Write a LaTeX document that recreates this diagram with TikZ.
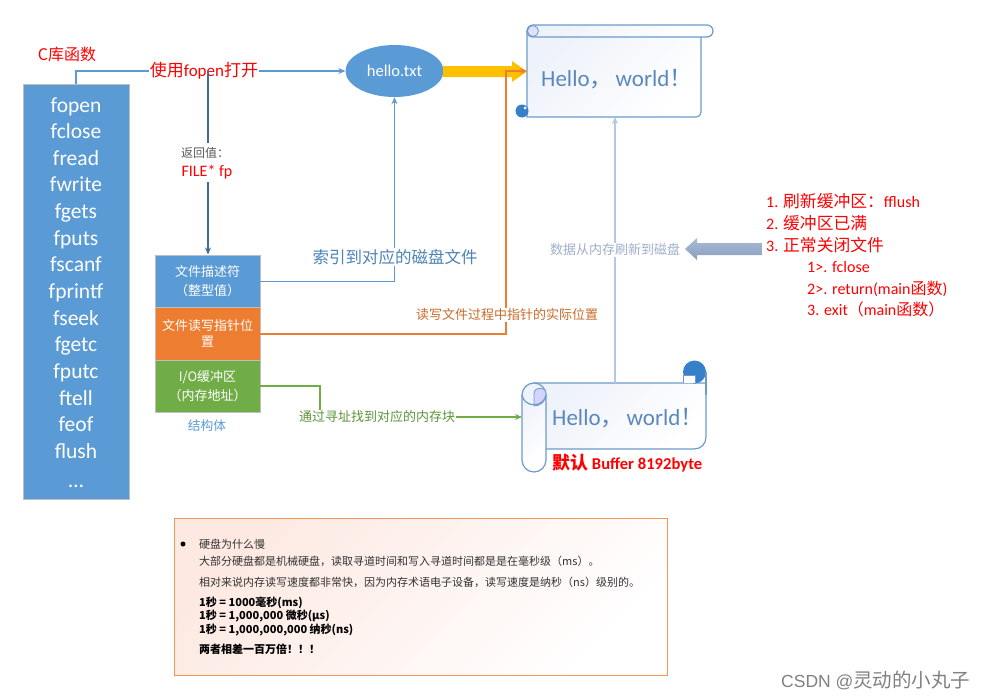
\documentclass[tikz,border=0pt]{standalone}
\usepackage{fontspec}
\usepackage{tikz}
\usetikzlibrary{shapes.geometric,arrows.meta}
\setmainfont{Carlito}
\newfontfamily\cjk{Noto Sans CJK SC}
\newfontfamily\wmark{Liberation Sans}
\newcommand{\zh}[1]{{\cjk #1}}
\newcommand{\redzh}[1]{{\cjk\fontsize{16.8}{16.8}\selectfont #1}}
\definecolor{boxblue}{HTML}{5B9BD5}
\definecolor{boxorange}{HTML}{ED7D31}
\definecolor{boxgreen}{HTML}{70AD47}
\definecolor{paperline}{HTML}{6C9BCB}
\definecolor{paperblue}{HTML}{3580C8}
\definecolor{papertext}{HTML}{5B88BC}
\definecolor{paleline}{HTML}{B4C7E7}
\definecolor{flowgold}{HTML}{FFC000}
\definecolor{papertint}{HTML}{EEF2FA}
\definecolor{notetint}{HTML}{FDE9E2}
\definecolor{arrowtop}{HTML}{A9BAD3}
\definecolor{arrowbot}{HTML}{8A9FBF}
\tikzset{
  pipe/.style={line width=1.6pt,-{Stealth[length=7pt,width=6pt]}},
  funcname/.style={anchor=base,inner sep=0pt,text=white,font=\fontsize{21.5}{21.5}\selectfont},
  fieldbox/.style={draw=gray!50,minimum width=105pt,minimum height=52.3pt,inner sep=0pt,
    align=center,text=white,font=\cjk\fontsize{13}{19}\selectfont},
  redtext/.style={text=red,anchor=base west,inner sep=0pt,font=\fontsize{16}{16}\selectfont},
  notetext/.style={anchor=base west,inner sep=0pt,text=black!80,font=\cjk\fontsize{11}{11}\selectfont},
  noteline/.style={notetext,text=black,font=\cjk\bfseries\fontsize{11}{11}\selectfont},
  paper/.style={draw=paperline,line width=1.2pt,left color=papertint,right color=white,shading angle=45},
  hellotext/.style={anchor=base west,inner sep=0pt,text=papertext,font=\fontsize{23}{23}\selectfont},
  linelabel/.style={fill=white,inner sep=1pt},
}
\begin{document}
\begin{tikzpicture}[x=1pt,y=-1pt]
  \useasboundingbox (0,0) rectangle (986,699);

  % Function list on the left
  \node[fill=boxblue,draw=gray!50,minimum width=106pt,minimum height=415pt,inner sep=0pt] (funcs) at (76,291.5) {};
  \node[text=red,font=\cjk\fontsize{16}{16}\selectfont] (clib) at (67,54) {C库函数};
  \foreach \name [count=\i from 0] in {fopen,fclose,fread,fwrite,fgets,fputs,fscanf,fprintf,fseek,fgetc,fputc,ftell,feof,flush} {
    \node[funcname] (func\i) at (76,112+26.65*\i) {\name};
  }
  \node[funcname] (func14) at (76,487) {\dots};

  % Disk file
  \node[ellipse,fill=boxblue,minimum width=98pt,minimum height=52pt,inner sep=0pt,text=white,font=\fontsize{16.5}{16.5}\selectfont] (hello) at (394.5,71) {hello.txt};

  % Upper paper
  \draw[paper] (527,31) -- (527,117) -- (696,117) .. controls (699,117) and (701,115) .. (701,112) -- (701,31) -- cycle;
  \draw[paper,rounded corners=6pt] (527,25) rectangle (713,37);
  \draw[draw=paperline,fill=blue!12,line width=0.8pt] (533,31) circle (5.5);
  \fill[paperblue] (522,111) circle (6.5);
  \fill[white] (525,108) circle (1.5);
  \node[hellotext] (diskhello) at (541,86) {Hello\zh{，}\hspace{3pt}world\zh{！}};
  \coordinate (diskin) at (527,71);
  \coordinate (diskbottom) at (615,117);
  \coordinate (orangebend) at (506,71);

  % Lower paper
  \draw[paper] (534,383) -- (706,383) -- (706,437) .. controls (706,444) and (701,449) .. (694,449) -- (534,449) -- cycle;
  \fill[paperblue] (694.5,372) circle (11.5);
  \draw[draw=paperline,fill=white,line width=0.8pt] (683.5,383) -- (683.5,375) -- (695,375) -- (695,383);
  \draw[draw=paperline,line width=1.2pt] (706,372) -- (706,395);
  \draw[paper,rounded corners=12pt] (522,383) rectangle (546,472);
  \draw[draw=paperline,fill=blue!17,line width=0.8pt] (534,406) -- (534,394) .. controls (534,386) and (546,386) .. (546,394) .. controls (546,402) and (540,406) .. (534,406);
  \draw[draw=paperline,line width=1.2pt] (522,395) .. controls (524,408) and (544,408) .. (546,395);
  \node[hellotext] (memhello) at (552,425) {Hello\zh{，}\hspace{3pt}world\zh{！}};
  \node[text=red,inner sep=0pt,anchor=base west,font=\bfseries\fontsize{16.6}{16.6}\selectfont] (bufsize) at (552,469) {{\cjk\fontsize{18}{18}\selectfont\bfseries 默认} Buffer 8192byte};
  \coordinate (memin) at (522,417);
  \coordinate (memtop) at (615,383);
  \coordinate (greenbend) at (320,417);

  % FILE struct fields
  \node[fieldbox,fill=boxblue] (fdesc) at (207.5,281.5) {文件描述符\\（整型值）};
  \node[fieldbox,fill=boxorange] (fpos) at (207.5,333.8) {文件读写指针位\\[-3pt]置};
  \node[fieldbox,fill=boxgreen] (fbuf) at (207.5,386.1) {I/O缓冲区\\（内存地址）};
  \node[text=boxblue,font=\cjk\fontsize{12.7}{12.7}\selectfont] (fstruct) at (207,426) {结构体};

  % Open call and returned pointer
  \coordinate (opentop) at (76,71);
  \coordinate (openfork) at (208,71);
  \coordinate (fdesctop) at (208,254.5);
  \draw[pipe,draw=boxblue] (funcs.north -| opentop) -- (opentop) -- (hello.west);
  \node[linelabel,text=red,font=\fontsize{17}{17}\selectfont] (openlabel) at (204,71) {\zh{使用}fopen\zh{打开}};
  \draw[pipe,draw=boxblue!70!black] (openfork) -- (fdesctop);
  \node[linelabel,minimum height=20pt,text=black!65,font=\cjk\fontsize{12}{12}\selectfont] (retlabel) at (205,153) {返回值：};
  \node[linelabel,minimum height=20pt,text=red,font=\fontsize{16}{16}\selectfont] (fplabel) at (207,172) {FILE* fp};

  % Field connectors
  \draw[pipe,draw=boxblue] (fdesc.east) -| (hello.south);
  \node[linelabel,text=boxblue!85!black,font=\cjk\fontsize{16.5}{16.5}\selectfont] (indexlabel) at (395,257) {索引到对应的磁盘文件};
  \fill[flowgold] (443,66) -- (512,66) -- (512,61) -- (527,71.5) -- (512,82) -- (512,77) -- (443,77) -- cycle;
  \draw[pipe,draw=boxorange] (fpos.east) -| (orangebend) -- (diskin);
  \node[linelabel,text=boxorange!85!black,font=\cjk\fontsize{13}{13}\selectfont] (poslabel) at (507,315) {读写文件过程中指针的实际位置};
  \draw[pipe,draw=boxgreen] (fbuf.east) -| (greenbend) -- (memin);
  \node[linelabel,text=boxgreen!85!black,font=\cjk\fontsize{13}{13}\selectfont] (buflabel) at (377,417) {通过寻址找到对应的内存块};

  % Flush from memory to disk
  \draw[pipe,draw=paleline] (memtop) -- (diskbottom);
  \node[linelabel,text=black!12!paleline,font=\cjk\fontsize{13}{13}\selectfont] (flushlabel) at (615,250) {数据从内存刷新到磁盘};
  \shade[top color=arrowtop,bottom color=arrowbot] (762,243) -- (697,243) -- (697,238) -- (685,249) -- (697,260) -- (697,255) -- (762,255) -- cycle;

  % Flush conditions
  \node[redtext] (cond1) at (766,207) {1. \redzh{刷新缓冲区：}fflush};
  \node[redtext] (cond2) at (766,229) {2. \redzh{缓冲区已满}};
  \node[redtext] (cond3) at (766,251) {3. \redzh{正常关闭文件}};
  \node[redtext] (close1) at (807,272) {1>. fclose};
  \node[redtext] (close2) at (807,294) {2>. return(main\zh{函数})};
  \node[redtext] (close3) at (807,315) {3. exit\zh{（}main\zh{函数）}};

  % Note on disk speed
  \node[draw=boxorange!80,left color=notetint,right color=white,shading angle=45,minimum width=493pt,minimum height=157pt,inner sep=0pt] (note) at (420.5,596.5) {};
  \fill (183,544) circle (2.5);
  \node[notetext] (note1) at (199,548) {硬盘为什么慢};
  \node[notetext] (note2) at (199,565) {大部分硬盘都是机械硬盘，读取寻道时间和写入寻道时间都是是在毫秒级（ms）。};
  \node[notetext] (note3) at (199,586) {相对来说内存读写速度都非常快，因为内存术语电子设备，读写速度是纳秒（ns）级别的。};
  \node[noteline] (note4) at (199,606) {1秒 = 1000毫秒(ms)};
  \node[noteline] (note5) at (199,619.5) {1秒 = 1,000,000 微秒(μs)};
  \node[noteline] (note6) at (199,633) {1秒 = 1,000,000,000 纳秒(ns)};
  \node[noteline] (note7) at (199,653) {两者相差一百万倍！！！};

  % Watermark
  \node[text=gray,inner sep=0pt,anchor=west] (mark) at (781,680) {{\wmark\fontsize{17.5}{17.5}\selectfont CSDN @}{\cjk\fontsize{19.5}{19.5}\selectfont 灵动的小丸子}};
\end{tikzpicture}
\end{document}
